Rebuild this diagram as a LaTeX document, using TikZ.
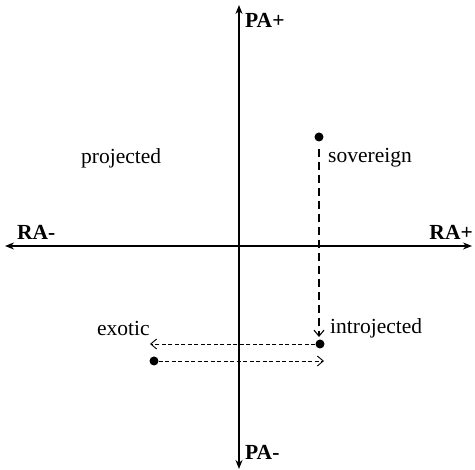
\documentclass[tikz,border=0pt]{standalone}
\usepackage{fontspec}
\setmainfont{Liberation Serif}
\usetikzlibrary{arrows.meta}
\begin{document}
\begin{tikzpicture}[x=1pt,y=-1pt,
  axis/.style={line width=1.6pt,-{Stealth[length=9pt,width=7pt]}},
  dsh/.style={line width=0.9pt,dash pattern=on 4pt off 2.5pt,-{Straight Barb[length=6pt,width=10pt]}},
  vdsh/.style={line width=1.1pt,dash pattern=on 8pt off 5pt,-{Straight Barb[length=6pt,width=10pt]}},
  lbl/.style={font=\fontsize{21.5}{24}\selectfont,inner sep=0pt},
  blbl/.style={font=\fontsize{21.5}{24}\selectfont\bfseries,inner sep=0pt},
  dot/.style={circle,fill=black,inner sep=0pt,minimum size=9pt}]
\useasboundingbox (0,0) rectangle (475,470);
\coordinate (c) at (239,246);
\coordinate (top) at (239,5);
\coordinate (bot) at (239,469);
\coordinate (left) at (5,246);
\coordinate (right) at (472,246);
\draw[axis] (c) -- (top);
\draw[axis] (c) -- (bot);
\draw[axis] (c) -- (left);
\draw[axis] (c) -- (right);
\node[blbl,anchor=west] (pap) at (245,20) {PA+};
\node[blbl,anchor=west] (pam) at (245,452) {PA-};
\node[blbl,anchor=west] (ram) at (17,232) {RA-};
\node[blbl,anchor=east] (rap) at (473,232) {RA+};
\node[lbl,anchor=west] (proj) at (81,158) {projected};
\node[lbl,anchor=west] (sov) at (328,158) {sovereign};
\node[lbl,anchor=west] (exo) at (97,328) {exotic};
\node[lbl,anchor=west] (intro) at (330,328) {introjected};
\node[dot] (d1) at (319,137) {};
\node[dot] (d2) at (320,344) {};
\node[dot] (d3) at (154,361) {};
\coordinate (t1) at (319,337);
\coordinate (t2) at (150,344);
\coordinate (t3) at (324,361);
\draw[vdsh] (d1) ++(0,12) -- (t1);
\draw[dsh] (d2) -- (t2);
\draw[dsh] (d3) -- (t3);
\end{tikzpicture}
\end{document}
